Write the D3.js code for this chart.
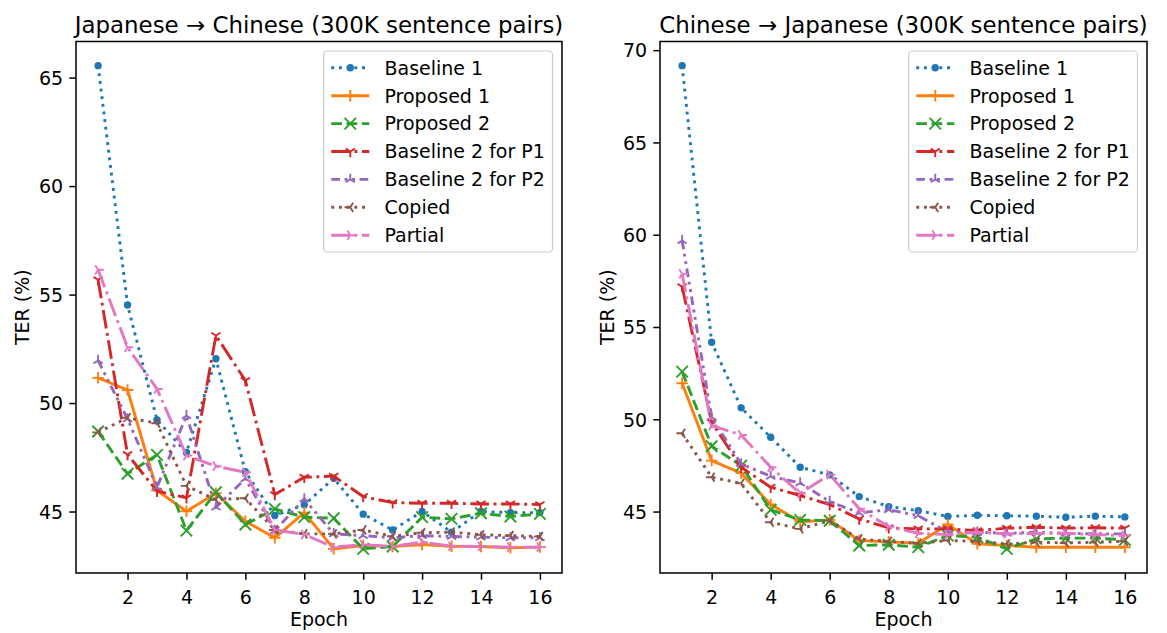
<!DOCTYPE html>
<html>
<head>
<meta charset="utf-8">
<script src="https://cdn.jsdelivr.net/npm/d3@7"></script>
<style>
  body { margin: 0; background: #fff; }
  text { font-family: "DejaVu Sans", sans-serif; fill: #000; }
</style>
</head>
<body>
<div id="chart"></div>
<script>
// epochs and tick labels
var epochs = [1,2,3,4,5,6,7,8,9,10,11,12,13,14,15,16];
var xTicks = [2,4,6,8,10,12,14,16];
var yTicksLeft = [45,50,55,60,65];
var yTicksRight = [45,50,55,60,65,70];
var seriesNames = ['Baseline 1','Proposed 1','Proposed 2','Baseline 2 for P1','Baseline 2 for P2','Copied','Partial'];

// Japanese -> Chinese (TER %)
var b1Left   = [65.55, 54.52, 49.22, 47.72, 52.04, 46.83, 44.82, 45.31, 46.53, 44.88, 44.15, 45.00, 44.05, 45.00, 44.95, 44.95];
var p1Left   = [51.16, 50.60, 45.97, 45.01, 45.84, 44.55, 43.79, 44.95, 43.28, 43.43, 43.39, 43.48, 43.40, 43.39, 43.33, 43.36];
var p2Left   = [48.69, 46.74, 47.61, 44.12, 45.89, 44.40, 45.12, 44.74, 44.69, 43.28, 43.39, 44.74, 44.66, 44.92, 44.77, 44.89];
var b2p1Left = [55.68, 47.63, 45.94, 45.63, 53.11, 51.04, 45.78, 46.58, 46.63, 45.69, 45.41, 45.38, 45.38, 45.35, 45.35, 45.32];
var b2p2Left = [51.96, 49.27, 46.12, 49.42, 45.20, 46.51, 44.12, 45.58, 43.97, 43.89, 43.79, 43.89, 43.85, 43.82, 43.79, 43.79];
var copLeft  = [48.65, 49.32, 49.07, 46.18, 45.55, 45.61, 44.15, 43.97, 43.97, 44.15, 43.86, 44.02, 44.05, 43.93, 43.89, 43.85];
var parLeft  = [56.14, 52.57, 50.65, 47.58, 47.09, 46.81, 44.15, 43.94, 43.36, 43.47, 43.39, 43.59, 43.40, 43.39, 43.36, 43.36];

// Chinese -> Japanese (TER %)
var b1Right   = [69.16, 54.17, 50.62, 49.03, 47.40, 46.99, 45.81, 45.27, 45.05, 44.73, 44.80, 44.77, 44.75, 44.69, 44.75, 44.71];
var p1Right   = [51.95, 47.76, 47.08, 45.38, 44.45, 44.55, 43.43, 43.36, 43.28, 44.30, 43.25, 43.16, 43.07, 43.07, 43.07, 43.07];
var p2Right   = [52.58, 48.54, 47.49, 45.09, 44.55, 44.50, 43.16, 43.20, 43.07, 43.70, 43.61, 42.98, 43.52, 43.56, 43.56, 43.47];
var b2p1Right = [57.19, 49.84, 47.40, 46.32, 45.87, 45.38, 44.60, 44.12, 44.06, 44.06, 43.97, 44.10, 44.15, 44.10, 44.12, 44.10];
var b2p2Right = [59.68, 50.11, 47.58, 46.91, 46.55, 45.54, 44.93, 45.10, 44.78, 43.88, 43.88, 43.82, 43.88, 43.82, 43.79, 43.79];
var copRight  = [49.24, 46.86, 46.53, 44.42, 44.06, 44.51, 43.52, 43.38, 43.28, 43.43, 43.39, 43.25, 43.34, 43.30, 43.34, 43.39];
var parRight  = [57.88, 49.66, 49.15, 47.40, 45.99, 47.00, 45.15, 44.18, 43.82, 43.75, 43.88, 43.79, 43.82, 43.82, 43.75, 43.70];

// styles per series: colour, dash, marker
var colors = ['#1f77b4','#ff7f0e','#2ca02c','#d62728','#9467bd','#8c564b','#e377c2'];
var lw = 2.9;
var dashes = [
    [2.9, 4.8].join(','),            // dotted
    null,                            // solid
    [10.7, 4.6].join(','),           // dashed
    [18.6, 4.6, 2.9, 4.6].join(','), // dash-dot
    [8.7, 4.6, 2.9, 4.6, 2.9, 4.6].join(','),
    [2.9, 4.8].join(','),
    [18.6, 4.6, 2.9, 4.6].join(',')
];
var markers = ['point','plus','x','tri_down','tri_up','tri_left','tri_right'];
var ms = 5.75;   // half marker size

function markerPath(type) {
    // path centred on 0,0 (screen coords, y down)
    var r = ms;
    if (type === 'plus') return 'M' + (-r) + ',0L' + r + ',0M0,' + (-r) + 'L0,' + r;
    if (type === 'x') return 'M' + (-r) + ',' + (-r) + 'L' + r + ',' + r + 'M' + (-r) + ',' + r + 'L' + r + ',' + (-r);
    var spokes;
    if (type === 'tri_down') spokes = [[0, 1], [0.8, -0.5], [-0.8, -0.5]];
    if (type === 'tri_up') spokes = [[0, -1], [0.8, 0.5], [-0.8, 0.5]];
    if (type === 'tri_left') spokes = [[-1, 0], [0.5, -0.8], [0.5, 0.8]];
    if (type === 'tri_right') spokes = [[1, 0], [-0.5, -0.8], [-0.5, 0.8]];
    var p = '';
    for (var i = 0; i < spokes.length; i++) {
        p += 'M0,0L' + (spokes[i][0] * r) + ',' + (spokes[i][1] * r);
    }
    return p;
}

function drawMarker(g, type, color, cx, cy) {
    if (type === 'point') {
        g.append('circle')
            .attr('cx', cx).attr('cy', cy).attr('r', 2.9)
            .attr('fill', color).attr('stroke', color).attr('stroke-width', 1.6);
    } else {
        g.append('path')
            .attr('transform', 'translate(' + cx + ',' + cy + ')')
            .attr('d', markerPath(type))
            .attr('fill', 'none').attr('stroke', color).attr('stroke-width', 1.9);
    }
}

var svg = d3.select('#chart').append('svg')
    .attr('width', 1167).attr('height', 633);

function drawPanel(opts) {
    var left = opts.left, right = opts.right, top = 41.5, bottom = 573;
    var g = svg.append('g');

    var x = d3.scaleLinear().domain([0.25, 16.75]).range([left, right]);
    var all = [].concat.apply([], opts.series);
    var ext = d3.extent(all);
    var pad = (ext[1] - ext[0]) * 0.05;
    var y = d3.scaleLinear().domain([ext[0] - pad, ext[1] + pad]).range([bottom, top]);

    // axes
    g.append('g')
        .attr('transform', 'translate(0,' + bottom + ')')
        .call(d3.axisBottom(x).tickValues(xTicks).tickSize(6.7).tickPadding(6).tickFormat(d3.format('d')))
        .call(function(a) {
            a.select('.domain').remove();
            a.selectAll('line').attr('stroke', '#000').attr('stroke-width', 1.5);
            a.selectAll('text').attr('font-size', 19).attr('font-family', 'DejaVu Sans').attr('dy', '0.95em');
        });
    g.append('g')
        .attr('transform', 'translate(' + left + ',0)')
        .call(d3.axisLeft(y).tickValues(opts.yTicks).tickSize(6.7).tickPadding(6.2).tickFormat(d3.format('d')))
        .call(function(a) {
            a.select('.domain').remove();
            a.selectAll('line').attr('stroke', '#000').attr('stroke-width', 1.5);
            a.selectAll('text').attr('font-size', 19).attr('font-family', 'DejaVu Sans').attr('dy', '0.36em');
        });

    // lines and markers
    for (var s = 0; s < opts.series.length; s++) {
        var data = opts.series[s];
        var line = d3.line()
            .x(function(d, i) { return x(epochs[i]); })
            .y(function(d) { return y(d); });
        g.append('path')
            .datum(data)
            .attr('fill', 'none')
            .attr('stroke', colors[s])
            .attr('stroke-width', lw)
            .attr('stroke-linejoin', 'round')
            .attr('stroke-dasharray', dashes[s])
            .attr('d', line);
        var mg = g.append('g');
        for (var i = 0; i < data.length; i++) {
            drawMarker(mg, markers[s], colors[s], x(epochs[i]), y(data[i]));
        }
    }

    // frame
    g.append('rect')
        .attr('x', left).attr('y', top)
        .attr('width', right - left).attr('height', bottom - top)
        .attr('fill', 'none').attr('stroke', '#000').attr('stroke-width', 1.5);

    // title and labels
    g.append('text')
        .attr('x', (left + right) / 2).attr('y', 33)
        .attr('text-anchor', 'middle').attr('font-size', 22.9)
        .text(opts.title);
    g.append('text')
        .attr('x', (left + right) / 2).attr('y', 626)
        .attr('text-anchor', 'middle').attr('font-size', 19)
        .text('Epoch');
    g.append('text')
        .attr('transform', 'translate(' + opts.ylabelX + ',' + ((top + bottom) / 2) + ') rotate(-90)')
        .attr('text-anchor', 'middle').attr('font-size', 19)
        .text('TER (%)');

    // legend
    var fs = 19, bpad = 7.6, hl = 38, htp = 15.2, rowH = 18.4, lsp = 9.5;
    var lg = g.append('g');
    var box = lg.append('rect');
    var texts = [];
    for (var k = 0; k < seriesNames.length; k++) {
        texts.push(lg.append('text').attr('font-size', fs).text(seriesNames[k]));
    }
    var maxW = d3.max(texts, function(t) { return t.node().getComputedTextLength(); });
    var boxW = bpad + hl + htp + maxW + bpad;
    var boxH = bpad * 2 + rowH * seriesNames.length + lsp * (seriesNames.length - 1);
    var bx = right - 9.5 - boxW, by = top + 9.5;
    box.attr('x', bx).attr('y', by).attr('width', boxW).attr('height', boxH)
        .attr('rx', 3.8).attr('fill', '#fff').attr('fill-opacity', 0.8)
        .attr('stroke', '#cccccc').attr('stroke-width', 1.2);
    for (var k = 0; k < seriesNames.length; k++) {
        var cy = by + bpad + rowH / 2 + k * (rowH + lsp);
        var x0 = bx + bpad;
        lg.append('line')
            .attr('x1', x0).attr('x2', x0 + hl).attr('y1', cy).attr('y2', cy)
            .attr('stroke', colors[k]).attr('stroke-width', lw)
            .attr('stroke-dasharray', dashes[k]);
        drawMarker(lg, markers[k], colors[k], x0 + hl / 2, cy);
        texts[k].attr('x', x0 + hl + htp).attr('y', cy + 6.8);
    }
}

drawPanel({
    left: 76, right: 562, ylabelX: 29, yTicks: yTicksLeft,
    title: 'Japanese \u2192 Chinese (300K sentence pairs)',
    series: [b1Left, p1Left, p2Left, b2p1Left, b2p2Left, copLeft, parLeft]
});
drawPanel({
    left: 660, right: 1147, ylabelX: 614, yTicks: yTicksRight,
    title: 'Chinese \u2192 Japanese (300K sentence pairs)',
    series: [b1Right, p1Right, p2Right, b2p1Right, b2p2Right, copRight, parRight]
});
</script>
</body>
</html>
